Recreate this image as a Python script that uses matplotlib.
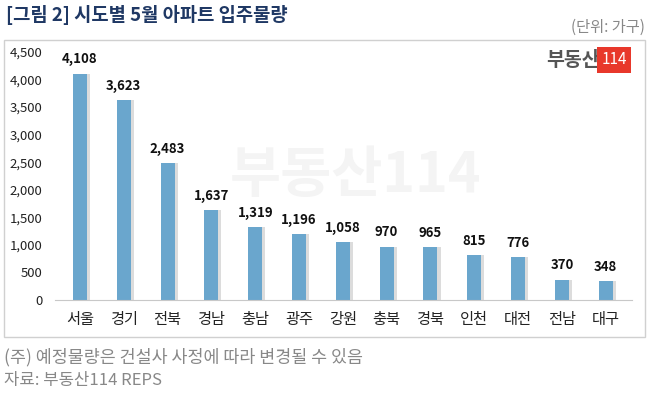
import matplotlib.pyplot as plt
from matplotlib.patches import Rectangle

plt.rcParams['font.family'] = ['Noto Sans CJK KR', 'DejaVu Sans']

# data
regions = ['서울', '경기', '전북', '경남', '충남', '광주', '강원', '충북', '경북', '인천', '대전', '전남', '대구']
units = [4108, 3623, 2483, 1637, 1319, 1196, 1058, 970, 965, 815, 776, 370, 348]
yticks = [0, 500, 1000, 1500, 2000, 2500, 3000, 3500, 4000, 4500]

W, H = 649, 393
fig = plt.figure(figsize=(W / 100, H / 100), dpi=100)

# outer box
fig.patches.append(Rectangle((4 / W, 1 - 337 / H), 641 / W, 297 / H, transform=fig.transFigure,
                             fill=False, edgecolor='#d0d0d0', linewidth=1))

ax = fig.add_axes([55 / W, 1 - 300 / H, 577 / W, 248 / H])
ax.patch.set_alpha(0)
x = list(range(len(regions)))

# faint watermark behind the bars
ax.text(0.52, 0.5, '부동산114', transform=ax.transAxes, ha='center', va='center', fontsize=40,
        fontweight='bold', color='#f4f4f4', zorder=0)

# shadow then bars
ax.bar([i + 0.1 for i in x], units, width=0.26, color='#dcdcdc', zorder=1)
ax.bar(x, units, width=0.32, color='#6aa6cd', zorder=2)

for i, v in zip(x, units):
    ax.text(i, v + 130, f'{v:,}', ha='center', va='bottom', fontsize=9.5, fontweight='bold',
            color='#111111', zorder=3)

ax.set_xlim(-0.57, 12.6)
ax.set_ylim(0, 4500)
ax.set_yticks(yticks)
ax.set_yticklabels([f'{t:,}' for t in yticks], fontsize=9.5, color='#222222')
ax.set_xticks(x)
ax.set_xticklabels(regions, fontsize=11, color='#222222')
ax.tick_params(axis='both', length=0)
ax.tick_params(axis='x', pad=8)
ax.tick_params(axis='y', pad=9)
for s in ['top', 'right', 'left']:
    ax.spines[s].set_visible(False)
ax.spines['bottom'].set_color('#c8c8c8')

# logo
fig.text(600 / W, 1 - 60 / H, '부동산', ha='right', va='center', fontsize=14, fontweight='bold', color='#555555')
fig.text(614 / W, 1 - 60 / H, '114', ha='center', va='center', fontsize=11, color='white',
         bbox=dict(boxstyle='square,pad=0.3', facecolor='#e8382b', edgecolor='none'))

# titles
fig.text(6 / W, 1 - 15 / H, '[그림 2] 시도별 5월 아파트 입주물량', ha='left', va='center',
         fontsize=13.5, fontweight='bold', color='#1f3864')
fig.text(645 / W, 1 - 27 / H, '(단위: 가구)', ha='right', va='center', fontsize=11, color='#888888')
fig.text(4 / W, 1 - 357 / H, '(주) 예정물량은 건설사 사정에 따라 변경될 수 있음', ha='left', va='center',
         fontsize=12.5, color='#888888')
fig.text(4 / W, 1 - 381 / H, '자료: 부동산114 REPS', ha='left', va='center', fontsize=12, color='#888888')

fig.savefig('out.png', dpi=100)
